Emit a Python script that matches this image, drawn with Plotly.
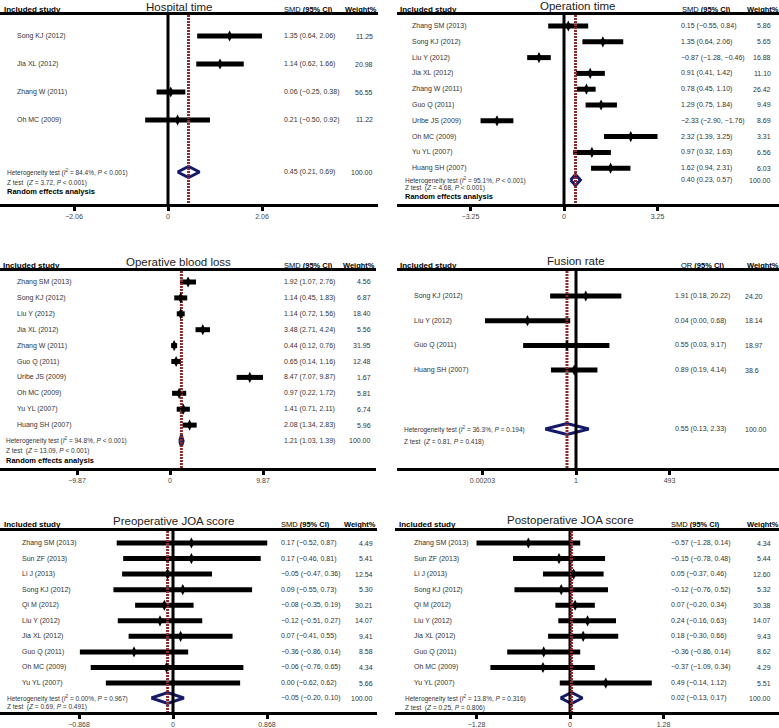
import plotly.graph_objects as go

W, H = 779, 728

# ---------------- data ----------------
hosp_studies = ["Song KJ (2012)", "Jia XL (2012)", "Zhang W (2011)", "Oh MC (2009)"]
hosp_est = [1.35, 1.14, 0.06, 0.21]
hosp_lo = [0.64, 0.62, -0.25, -0.50]
hosp_hi = [2.06, 1.66, 0.38, 0.92]
hosp_w = ["11.25", "20.98", "56.55", "11.22"]
hosp_pool = [0.45, 0.21, 0.69]
hosp_stats = ["84.4%", "<i>P</i> &lt; 0.001", "3.72", "<i>P</i> &lt; 0.001"]
hosp_ticks = [-2.06, 0, 2.06]
hosp_ticklabels = ["−2.06", "0", "2.06"]

op_studies = ["Zhang SM (2013)", "Song KJ (2012)", "Liu Y (2012)", "Jia XL (2012)", "Zhang W (2011)",
              "Guo Q (2011)", "Uribe JS (2009)", "Oh MC (2009)", "Yu YL (2007)", "Huang SH (2007)"]
op_est = [0.15, 1.35, -0.87, 0.91, 0.78, 1.29, -2.33, 2.32, 0.97, 1.62]
op_lo = [-0.55, 0.64, -1.28, 0.41, 0.45, 0.75, -2.90, 1.39, 0.32, 0.94]
op_hi = [0.84, 2.06, -0.46, 1.42, 1.10, 1.84, -1.76, 3.25, 1.63, 2.31]
op_w = ["5.86", "5.65", "16.88", "11.10", "26.42", "9.49", "8.69", "3.31", "6.56", "6.03"]
op_pool = [0.40, 0.23, 0.57]
op_stats = ["95.1%", "<i>P</i> &lt; 0.001", "4.68", "<i>P</i> &lt; 0.001"]
op_ticks = [-3.25, 0, 3.25]
op_ticklabels = ["−3.25", "0", "3.25"]

bl_studies = op_studies
bl_est = [1.92, 1.14, 1.14, 3.48, 0.44, 0.65, 8.47, 0.97, 1.41, 2.08]
bl_lo = [1.07, 0.45, 0.72, 2.71, 0.12, 0.14, 7.07, 0.22, 0.71, 1.34]
bl_hi = [2.76, 1.83, 1.56, 4.24, 0.76, 1.16, 9.87, 1.72, 2.11, 2.83]
bl_w = ["4.56", "6.87", "18.40", "5.56", "31.95", "12.48", "1.67", "5.81", "6.74", "5.96"]
bl_pool = [1.21, 1.03, 1.39]
bl_stats = ["94.8%", "<i>P</i> &lt; 0.001", "13.09", "<i>P</i> &lt; 0.001"]
bl_ticks = [-9.87, 0, 9.87]
bl_ticklabels = ["−9.87", "0", "9.87"]

fu_studies = ["Song KJ (2012)", "Liu Y (2012)", "Guo Q (2011)", "Huang SH (2007)"]
fu_est = [1.91, 0.04, 0.55, 0.89]
fu_lo = [0.18, 0.0024, 0.03, 0.19]
fu_hi = [20.22, 0.68, 9.17, 4.14]
fu_w = ["24.20", "18.14", "18.97", "38.6"]
fu_pool = [0.55, 0.13, 2.33]
fu_stats = ["36.3%", "<i>P</i> = 0.194", "0.81", "<i>P</i> = 0.418"]
fu_ticks = [0.00203, 1, 493]
fu_ticklabels = ["0.00203", "1", "493"]

jo_studies = ["Zhang SM (2013)", "Sun ZF (2013)", "Li J (2013)", "Song KJ (2012)", "Qi M (2012)",
              "Liu Y (2012)", "Jia XL (2012)", "Guo Q (2011)", "Oh MC (2009)", "Yu YL (2007)"]
pre_est = [0.17, 0.17, -0.05, 0.09, -0.08, -0.12, 0.07, -0.36, -0.06, 0.00]
pre_lo = [-0.52, -0.46, -0.47, -0.55, -0.35, -0.51, -0.41, -0.86, -0.76, -0.62]
pre_hi = [0.87, 0.81, 0.36, 0.73, 0.19, 0.27, 0.55, 0.14, 0.65, 0.62]
pre_w = ["4.49", "5.41", "12.54", "5.30", "30.21", "14.07", "9.41", "8.58", "4.34", "5.66"]
pre_pool = [-0.05, -0.20, 0.10]
pre_stats = ["0.00%", "<i>P</i> = 0.967", "0.69", "<i>P</i> = 0.491"]
pre_ticks = [-0.868, 0, 0.868]
pre_ticklabels = ["−0.868", "0", "0.868"]

post_est = [-0.57, -0.15, 0.05, -0.12, 0.07, 0.24, 0.18, -0.36, -0.37, 0.49]
post_lo = [-1.28, -0.78, -0.37, -0.76, -0.20, -0.16, -0.30, -0.86, -1.09, -0.14]
post_hi = [0.14, 0.48, 0.46, 0.52, 0.34, 0.63, 0.66, 0.14, 0.34, 1.12]
post_w = ["4.34", "5.44", "12.60", "5.32", "30.38", "14.07", "9.43", "8.62", "4.29", "5.51"]
post_pool = [0.02, -0.13, 0.17]
post_stats = ["13.8%", "<i>P</i> = 0.316", "0.25", "<i>P</i> = 0.806"]
post_ticks = [-1.28, 0, 1.28]
post_ticklabels = ["−1.28", "0", "1.28"]

# ---------------- layout geometry (pixels) ----------------
panels = [
    dict(title="Hospital time", measure="SMD", studies=hosp_studies, est=hosp_est, lo=hosp_lo, hi=hosp_hi,
         w=hosp_w, pool=hosp_pool, stats=hosp_stats, ticks=hosp_ticks, ticklabels=hosp_ticklabels,
         log=False, null=0, nullline=True, random=True,
         x0=0, x1=378, top=15, bottom=204, zero=168, scale=94 / 2.06,
         first=36, pitch=28, het=172, zt=183, rnd=192,
         inc_x=2, title_x=179, title_y=7, hdr_y=10, smd_x=282, wt_r=379,
         lab_x=15, het_x=5, val_x=282, w_x=375, w_anchor="right"),
    dict(title="Operation time", measure="SMD", studies=op_studies, est=op_est, lo=op_lo, hi=op_hi,
         w=op_w, pool=op_pool, stats=op_stats, ticks=op_ticks, ticklabels=op_ticklabels,
         log=False, null=0, nullline=True, random=True,
         x0=397, x1=779, top=15, bottom=204, zero=564, scale=93.5 / 3.25,
         first=26, pitch=15.8, het=180, zt=188.5, rnd=197,
         inc_x=398, title_x=577, title_y=6, hdr_y=10, smd_x=680, wt_r=781,
         lab_x=410, het_x=403, val_x=679, w_x=773, w_anchor="right"),
    dict(title="Operative blood loss", measure="SMD", studies=bl_studies, est=bl_est, lo=bl_lo, hi=bl_hi,
         w=bl_w, pool=bl_pool, stats=bl_stats, ticks=bl_ticks, ticklabels=bl_ticklabels,
         log=False, null=0, nullline=False, random=True,
         x0=0, x1=376, top=271, bottom=468, zero=170, scale=93 / 9.87,
         first=282, pitch=15.9, het=441, zt=451, rnd=460,
         inc_x=1, title_x=178, title_y=262, hdr_y=265, smd_x=282, wt_r=377,
         lab_x=15, het_x=4, val_x=282, w_x=373, w_anchor="right"),
    dict(title="Fusion rate", measure="OR", studies=fu_studies, est=fu_est, lo=fu_lo, hi=fu_hi,
         w=fu_w, pool=fu_pool, stats=fu_stats, ticks=fu_ticks, ticklabels=fu_ticklabels,
         log=True, null=1, nullline=True, random=False,
         x0=397, x1=779, top=271, bottom=468, zero=576, scale=93.5 / 2.6925,
         first=296, pitch=24.7, het=429, zt=442, rnd=None,
         inc_x=398, title_x=576, title_y=261, hdr_y=265, smd_x=679, wt_r=781,
         lab_x=412, het_x=402, val_x=673, w_x=743, w_anchor="left"),
    dict(title="Preoperative JOA score", measure="SMD", studies=jo_studies, est=pre_est, lo=pre_lo, hi=pre_hi,
         w=pre_w, pool=pre_pool, stats=pre_stats, ticks=pre_ticks, ticklabels=pre_ticklabels,
         log=False, null=0, nullline=True, random=False,
         x0=0, x1=377, top=531, bottom=712, zero=173, scale=94 / 0.868,
         first=543, pitch=15.56, het=698, zt=707, rnd=None,
         inc_x=2, title_x=173, title_y=521, hdr_y=524, smd_x=279, wt_r=378,
         lab_x=20, het_x=5, val_x=279, w_x=375, w_anchor="right"),
    dict(title="Postoperative JOA score", measure="SMD", studies=jo_studies, est=post_est, lo=post_lo, hi=post_hi,
         w=post_w, pool=post_pool, stats=post_stats, ticks=post_ticks, ticklabels=post_ticklabels,
         log=False, null=0, nullline=True, random=False,
         x0=395, x1=779, top=531, bottom=712, zero=570, scale=93.5 / 1.28,
         first=543, pitch=15.56, het=698, zt=708, rnd=None,
         inc_x=397, title_x=570, title_y=520, hdr_y=524, smd_x=669, wt_r=781,
         lab_x=412, het_x=403, val_x=669, w_x=773, w_anchor="right"),
]

FONT = "Liberation Sans, Arial, sans-serif"
TXT = "#333333"
NAVY = "#141a68"
RED = "#8a2a2a"


def fmt(v):
    return f"{v:.2f}".replace("-", "−")


def px(x):
    return x / W


def py(y):
    return 1 - y / H


fig = go.Figure()
annotations = []
layout_axes = {}


def ann(x, y, text, size=7, anchor="left", bold=False, color=TXT):
    if bold:
        text = f"<b>{text}</b>"
    annotations.append(dict(x=px(x), y=py(y), xref="paper", yref="paper", text=text, showarrow=False,
                            xanchor=anchor, yanchor="middle", font=dict(family=FONT, size=size, color=color)))


for k, p in enumerate(panels, start=1):
    xa = "x" if k == 1 else f"x{k}"
    ya = "y" if k == 1 else f"y{k}"
    lo_v = (p["x0"] - p["zero"]) / p["scale"]
    hi_v = (p["x1"] - p["zero"]) / p["scale"]
    xaxis = dict(domain=[px(p["x0"]), px(p["x1"])], anchor=ya, range=[lo_v, hi_v],
                 tickvals=p["ticks"], ticktext=p["ticklabels"], showline=True, linewidth=3,
                 linecolor="black", mirror=True, ticks="outside", ticklen=4, tickwidth=3,
                 tickcolor="black", showgrid=False, zeroline=False,
                 tickfont=dict(family=FONT, size=7, color="#444444"), fixedrange=True)
    if p["log"]:
        xaxis["type"] = "log"
    yaxis = dict(domain=[py(p["bottom"]), py(p["top"])], anchor=xa, range=[p["bottom"], p["top"]],
                 visible=False, fixedrange=True)
    layout_axes["xaxis" if k == 1 else f"xaxis{k}"] = xaxis
    layout_axes["yaxis" if k == 1 else f"yaxis{k}"] = yaxis

    rows = [p["first"] + i * p["pitch"] for i in range(len(p["studies"]))]

    # pooled diamond
    e, l, h = p["pool"]
    yc = p["het"]
    fig.add_trace(go.Scatter(x=[l, e, h, e, l], y=[yc, yc - 5.5, yc, yc + 5.5, yc], mode="lines",
                             fill="toself", fillcolor="white", line=dict(color=NAVY, width=3),
                             xaxis=xa, yaxis=ya, hoverinfo="skip", showlegend=False))
    # CI bars
    bx, by = [], []
    for lo, hi, r in zip(p["lo"], p["hi"], rows):
        bx += [lo, hi, None]
        by += [r, r, None]
    fig.add_trace(go.Scatter(x=bx, y=by, mode="lines", line=dict(color="black", width=5),
                             xaxis=xa, yaxis=ya, hoverinfo="skip", showlegend=False))
    # vertical lines
    if p["nullline"]:
        fig.add_trace(go.Scatter(x=[p["null"], p["null"]], y=[p["top"], p["bottom"]], mode="lines",
                                 line=dict(color="black", width=3), xaxis=xa, yaxis=ya,
                                 hoverinfo="skip", showlegend=False))
    fig.add_trace(go.Scatter(x=[e, e], y=[p["top"], p["bottom"]], mode="lines",
                             line=dict(color=RED, width=3, dash="2px,1px"), xaxis=xa, yaxis=ya,
                             hoverinfo="skip", showlegend=False))
    # point estimates
    fig.add_trace(go.Scatter(x=p["est"], y=rows, mode="markers",
                             marker=dict(symbol="diamond-tall", size=8, color="black"),
                             xaxis=xa, yaxis=ya, hoverinfo="skip", showlegend=False))

    # texts
    ann(p["inc_x"], p["hdr_y"], "Included study", size=8, bold=True, color="black")
    ann(p["title_x"], p["title_y"], p["title"], size=11.5, anchor="center", color="#222222")
    ann(p["smd_x"], p["hdr_y"], f"{p['measure']} <b>(95% CI)</b>", size=7.5, color="black")
    ann(p["wt_r"], p["hdr_y"], "Weight%", size=7.5, anchor="right", bold=True, color="black")
    for s, es, lo, hi, w, r in zip(p["studies"], p["est"], p["lo"], p["hi"], p["w"], rows):
        ann(p["lab_x"], r, s, size=7)
        ann(p["val_x"], r, f"{fmt(es)} ({fmt(lo)}, {fmt(hi)})", size=7)
        ann(p["w_x"], r, w, size=7, anchor=p["w_anchor"])
    i2, ph, z, pz = p["stats"]
    ann(p["het_x"], p["het"], f"Heterogeneity test (<i>I</i><sup>2</sup> = {i2}, {ph})", size=6.5)
    ann(p["val_x"], p["het"], f"{fmt(e)} ({fmt(l)}, {fmt(h)})", size=7)
    ann(p["w_x"], p["het"], "100.00", size=7, anchor=p["w_anchor"])
    ann(p["het_x"], p["zt"], f"Z test  (<i>Z</i> = {z}, {pz})", size=6.5)
    if p["random"]:
        ann(p["het_x"], p["rnd"], "Random effects analysis", size=7.5, bold=True, color="black")

fig.update_layout(width=W, height=H, margin=dict(l=0, r=0, t=0, b=0), paper_bgcolor="white",
                  plot_bgcolor="white", showlegend=False, annotations=annotations, **layout_axes)

fig.write_html("out.html", config={"displayModeBar": False, "staticPlot": True},
               post_script="document.body.style.margin='0';document.body.style.overflow='hidden';")
